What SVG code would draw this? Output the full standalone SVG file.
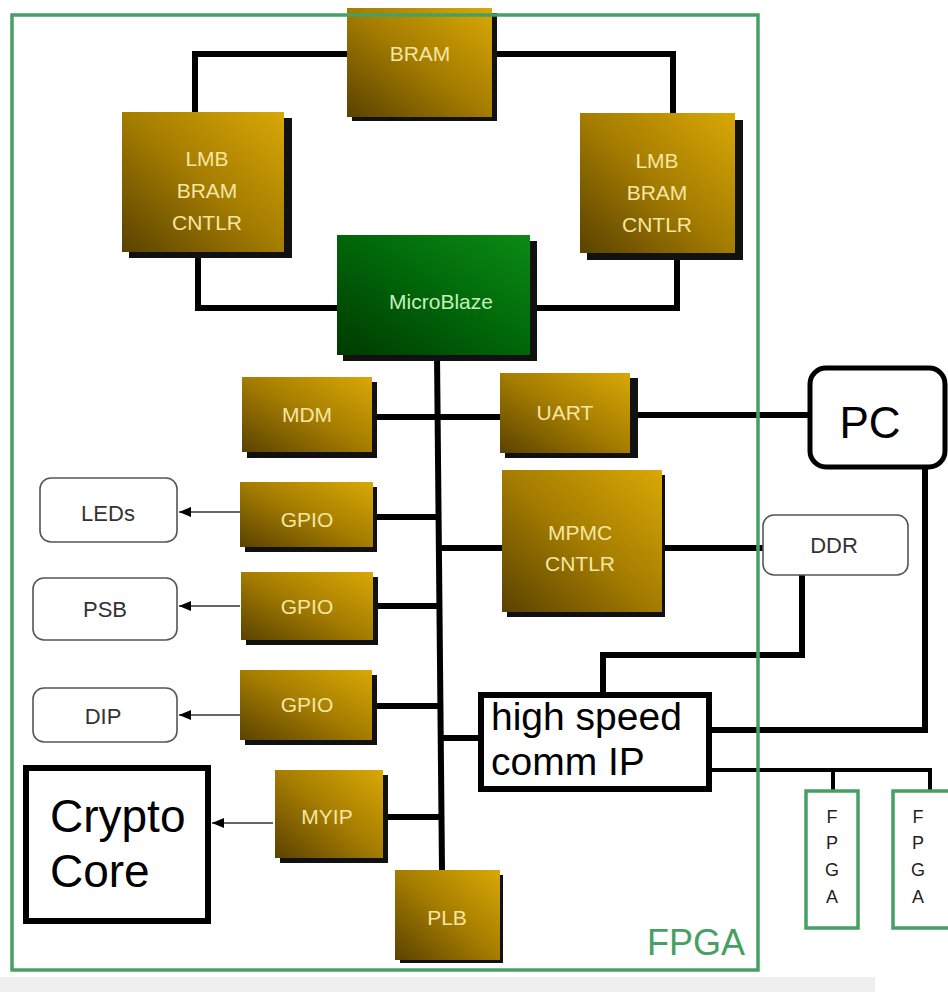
<svg xmlns="http://www.w3.org/2000/svg" width="948" height="992" viewBox="0 0 948 992">
<style>
.gold{fill:url(#goldGrad)}
.shadow{fill:#111}
.lbl{font-family:"Liberation Sans",Arial,sans-serif;font-size:21px;fill:#f6e6a2;text-anchor:middle}
.mb{font-family:"Liberation Sans",Arial,sans-serif;font-size:21px;fill:#c4f0bc;text-anchor:middle}
.ext{fill:#fff;stroke:#555;stroke-width:1.6}
.extT{font-family:"Liberation Sans",Arial,sans-serif;font-size:22px;fill:#333;text-anchor:middle}
.bus{stroke:#000;stroke-width:6;fill:none;stroke-linejoin:miter}
.thin{stroke:#333;stroke-width:1.5;fill:none}
.green{fill:none;stroke:#46a064;stroke-width:3.5}
.fpgaT{font-family:"Liberation Sans",Arial,sans-serif;font-size:18px;fill:#222;text-anchor:middle}
.big{font-family:"Liberation Sans",Arial,sans-serif;fill:#000}
</style>
<defs>
<linearGradient id="goldGrad" x1="0" y1="1" x2="1" y2="0">
<stop offset="0" stop-color="#5a4200"/>
<stop offset="0.5" stop-color="#a47c00"/>
<stop offset="1" stop-color="#d9a806"/>
</linearGradient>
<linearGradient id="greenGrad" x1="0" y1="1" x2="1" y2="0">
<stop offset="0" stop-color="#003a00"/>
<stop offset="0.55" stop-color="#006a0a"/>
<stop offset="1" stop-color="#0c8a14"/>
</linearGradient>
<marker id="arr" markerUnits="userSpaceOnUse" markerWidth="14" markerHeight="12" refX="12" refY="5" orient="auto">
<path d="M0,0 L12,5 L0,10 z" fill="#000"/>
</marker>
</defs>
<rect x="0" y="0" width="948" height="992" fill="#fff"/>
<rect x="0" y="977" width="875" height="15" fill="#efefef"/>

<g id="connectors">
<polyline class="bus" points="347,54 195,54 195,112"/>
<polyline class="bus" points="492,54 673,54 673,113"/>
<polyline class="bus" points="198,252 198,308 337,308"/>
<polyline class="bus" points="530,308 677,308 677,253"/>
<line class="bus" x1="437" y1="355" x2="442" y2="870"/>
<line class="bus" x1="372" y1="417" x2="500" y2="417"/>
<line class="bus" x1="373" y1="517" x2="438" y2="517"/>
<line class="bus" x1="373" y1="606" x2="439" y2="606"/>
<line class="bus" x1="372" y1="706" x2="440" y2="706"/>
<line class="bus" x1="383" y1="817" x2="442" y2="817"/>
<line class="bus" x1="438" y1="548" x2="502" y2="548"/>
<line class="bus" x1="662" y1="548" x2="763" y2="548"/>
<line class="bus" x1="440" y1="738" x2="478" y2="738"/>
<line class="bus" x1="630" y1="415" x2="810" y2="415"/>
<circle cx="631" cy="415" r="3.5" fill="#000"/>
<polyline class="bus" points="802,575 802,655 603,655 603,692"/>
<polyline class="bus" points="925,467 925,730 712,730"/>
<polyline class="bus" style="stroke-width:4" points="712,770 930,770 930,790"/>
<line class="bus" style="stroke-width:4" x1="833" y1="770" x2="833" y2="790"/>
<line class="thin" x1="240" y1="512" x2="179" y2="512" marker-end="url(#arr)"/>
<line class="thin" x1="240" y1="606" x2="179" y2="606" marker-end="url(#arr)"/>
<line class="thin" x1="240" y1="715" x2="179" y2="715" marker-end="url(#arr)"/>
<line class="thin" x1="273" y1="823" x2="212" y2="823" marker-end="url(#arr)"/>
</g>

<g id="bram">
<rect class="shadow" x="352" y="13" width="145" height="108"/>
<rect class="gold" x="347" y="8" width="145" height="109"/>
<text class="lbl" x="420" y="61">BRAM</text>
</g>
<g id="lmb-left">
<rect class="shadow" x="129" y="118" width="163" height="140"/>
<rect class="gold" x="122" y="112" width="162" height="140"/>
<text class="lbl" x="207" y="166">LMB</text>
<text class="lbl" x="207" y="198">BRAM</text>
<text class="lbl" x="207" y="230">CNTLR</text>
</g>
<g id="lmb-right">
<rect class="shadow" x="587" y="120" width="156" height="140"/>
<rect class="gold" x="580" y="113" width="155" height="140"/>
<text class="lbl" x="657" y="168">LMB</text>
<text class="lbl" x="657" y="200">BRAM</text>
<text class="lbl" x="657" y="232">CNTLR</text>
</g>
<g id="microblaze">
<rect class="shadow" x="343" y="241" width="194" height="120"/>
<rect x="337" y="235" width="193" height="120" fill="url(#greenGrad)"/>
<text class="mb" x="441" y="309">MicroBlaze</text>
</g>
<g id="mdm">
<rect class="shadow" x="247" y="382" width="130" height="76"/>
<rect class="gold" x="242" y="377" width="130" height="75"/>
<text class="lbl" x="307" y="422">MDM</text>
</g>
<g id="uart">
<rect class="shadow" x="505" y="378" width="133" height="80"/>
<rect class="gold" x="500" y="373" width="130" height="80"/>
<text class="lbl" x="565" y="420">UART</text>
</g>
<g id="gpio1">
<rect class="shadow" x="245" y="487" width="132" height="65"/>
<rect class="gold" x="240" y="482" width="133" height="65"/>
<text class="lbl" x="307" y="527">GPIO</text>
</g>
<g id="gpio2">
<rect class="shadow" x="246" y="577" width="132" height="68"/>
<rect class="gold" x="241" y="572" width="132" height="68"/>
<text class="lbl" x="307" y="614">GPIO</text>
</g>
<g id="gpio3">
<rect class="shadow" x="245" y="675" width="132" height="70"/>
<rect class="gold" x="240" y="670" width="132" height="70"/>
<text class="lbl" x="307" y="712">GPIO</text>
</g>
<g id="mpmc">
<rect class="shadow" x="507" y="475" width="158" height="142"/>
<rect class="gold" x="502" y="470" width="160" height="142"/>
<text class="lbl" x="580" y="540">MPMC</text>
<text class="lbl" x="580" y="571">CNTLR</text>
</g>
<g id="myip">
<rect class="shadow" x="280" y="775" width="108" height="88"/>
<rect class="gold" x="275" y="770" width="108" height="88"/>
<text class="lbl" x="327" y="824">MYIP</text>
</g>
<g id="plb">
<rect class="shadow" x="400" y="875" width="103" height="88"/>
<rect class="gold" x="395" y="870" width="105" height="90"/>
<text class="lbl" x="447" y="925">PLB</text>
</g>
<g id="leds">
<rect class="ext" x="40" y="478" width="137" height="64" rx="11"/>
<text class="extT" x="108" y="521">LEDs</text>
</g>
<g id="psb">
<rect class="ext" x="33" y="578" width="144" height="62" rx="11"/>
<text class="extT" x="105" y="617">PSB</text>
</g>
<g id="dip">
<rect class="ext" x="33" y="688" width="144" height="54" rx="11"/>
<text class="extT" x="103" y="724">DIP</text>
</g>
<g id="ddr">
<rect class="ext" x="763" y="515" width="145" height="60" rx="11"/>
<text class="extT" x="834" y="553">DDR</text>
</g>
<g id="pc">
<rect x="810" y="368" width="135" height="99" rx="16" fill="#fff" stroke="#000" stroke-width="5"/>
<text class="big" x="870" y="438" font-size="44" text-anchor="middle">PC</text>
</g>
<g id="crypto-core">
<rect x="26" y="768" width="182" height="153" fill="#fff" stroke="#000" stroke-width="6"/>
<text class="big" x="50" y="832" font-size="46">Crypto</text>
<text class="big" x="50" y="887" font-size="46">Core</text>
</g>
<g id="high-speed-comm-ip">
<rect x="481" y="695" width="228" height="94" fill="#fff" stroke="#000" stroke-width="6"/>
<text class="big" x="491" y="730" font-size="39">high speed</text>
<text class="big" x="491" y="775" font-size="39">comm IP</text>
</g>
<g id="fpga-ext1">
<rect class="green" x="806" y="791" width="52" height="137"/>
<text class="fpgaT" x="832" y="823">F</text>
<text class="fpgaT" x="832" y="849">P</text>
<text class="fpgaT" x="832" y="876">G</text>
<text class="fpgaT" x="832" y="903">A</text>
</g>
<g id="fpga-ext2">
<rect class="green" x="893" y="791" width="60" height="137"/>
<text class="fpgaT" x="918" y="823">F</text>
<text class="fpgaT" x="918" y="849">P</text>
<text class="fpgaT" x="918" y="876">G</text>
<text class="fpgaT" x="918" y="903">A</text>
</g>
<g id="fpga">
<rect class="green" x="12" y="15" width="746" height="955"/>
<text x="745" y="955" font-family="Liberation Sans,Arial,sans-serif" font-size="36" fill="#46a064" text-anchor="end">FPGA</text>
</g>
</svg>
